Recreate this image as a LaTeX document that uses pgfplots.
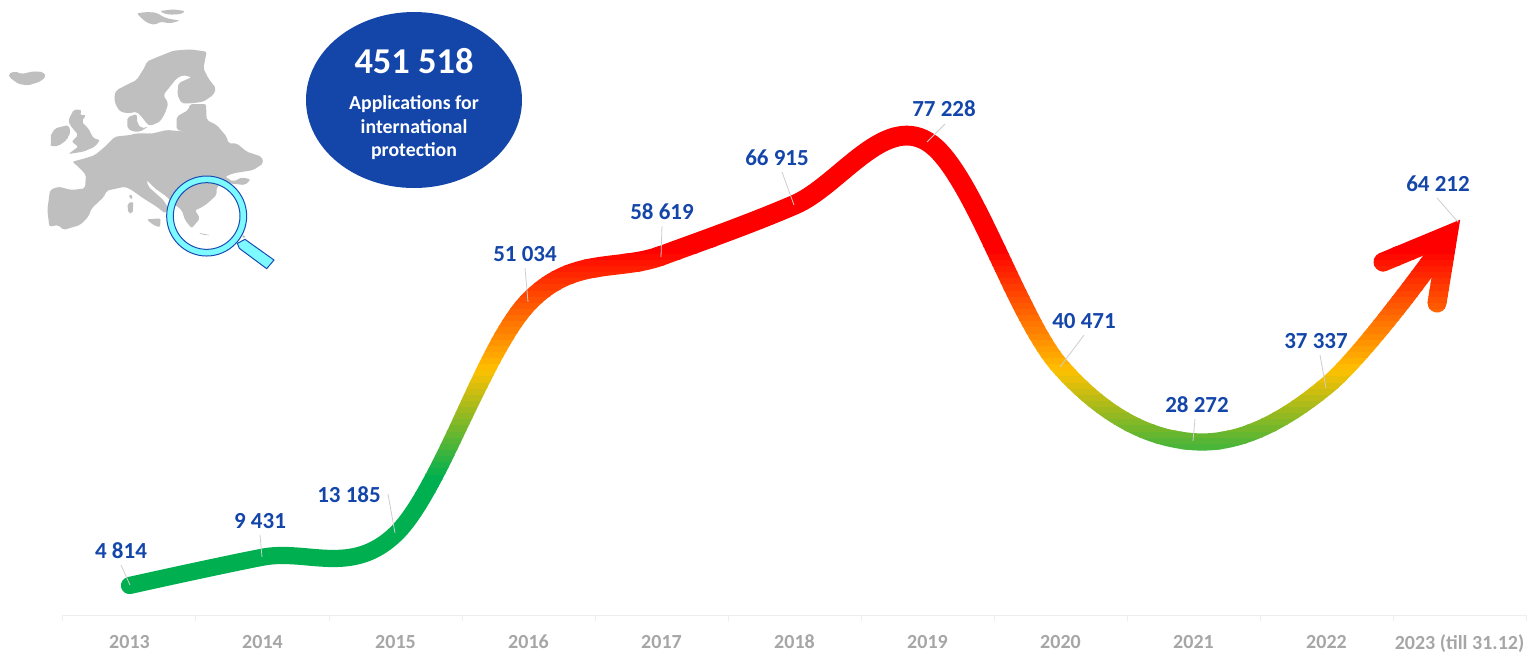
\documentclass[border=0pt]{standalone}
\usepackage{fontspec}
\setmainfont{Carlito}
\usepackage{pgfplots}
\usepackage{pgfplotstable}
\pgfplotsset{compat=1.18}
\definecolor{eublue}{RGB}{20,70,170}
\definecolor{axgrey}{RGB}{166,166,166}
\definecolor{axline}{RGB}{238,238,238}
\definecolor{leader}{RGB}{205,205,205}
\definecolor{mapgrey}{RGB}{191,191,191}
\definecolor{lens}{RGB}{125,250,255}
\definecolor{lensedge}{RGB}{25,75,180}
\pgfplotstableread{
x y
0 4814
1 9431
2 13185
3 51034
4 58619
5 66915
6 77228
7 40471
8 28272
9 37337
10 64212
}\appdata
\pgfplotstableread{
x y
9.425 57585
9.914 61990
9.831 50897
}\headdata
\pgfplotsset{
  colormap={gradmap}{rgb255(0cm)=(0,176,80) rgb255(2cm)=(0,176,80) rgb255(19.5cm)=(255,192,0) rgb255(39cm)=(255,0,0) rgb255(40cm)=(255,0,0)},
  colormap name=gradmap,
}
% #1 lower y, #2 upper y, #3 colormap position, #4 line width
\newcommand{\band}[4]{%
  \addplot[color of colormap={#3}, line width=#4pt, smooth, tension=0.6, line cap=round, shorten >=17pt, no marks, forget plot,
    execute at begin plot visualization={\begin{scope}\clip (axis cs:-2,#1) rectangle (axis cs:12,#2);},
    execute at end plot visualization={\end{scope}}] table[x=x,y=y]{\appdata};
  \addplot[color of colormap={#3}, line width=9.5pt, sharp plot, line cap=round, line join=miter, no marks, forget plot,
    execute at begin plot visualization={\begin{scope}\clip (axis cs:-2,#1) rectangle (axis cs:12,#2);},
    execute at end plot visualization={\end{scope}}] table[x=x,y=y]{\headdata};
}
\begin{document}
\begin{tikzpicture}
\path[use as bounding box] (0pt,0pt) rectangle (768.5pt,-327.5pt);
\begin{scope}[x=0.5pt,y=-0.5pt]
% map
\begin{scope}[x=0.16667pt,y=-0.16667pt,every path/.append style={rounded corners=1pt}]
\fill[mapgrey] (25,222)--(45,214)--(65,222)--(100,214)--(130,216)--(138,230)--(120,245)--(85,256)--(55,252)--(40,240)--(28,232)--cycle;
\fill[mapgrey] (410,40)--(440,36)--(470,38)--(480,45)--(500,55)--(540,62)--(510,70)--(480,65)--(465,75)--(440,68)--(420,50)--cycle;
\fill[mapgrey] (480,33)--(520,28)--(555,33)--(545,42)--(510,44)--(490,40)--cycle;
\fill[mapgrey] (343,285)--(350,270)--(385,252)--(410,240)--(435,200)--(440,185)--(470,172)--(520,152)--(570,148)--(620,155)--(615,180)--(610,205)--(625,235)--(648,265)--(640,285)--(610,305)--(575,310)--(545,310)--(532,285)--(535,250)--(560,238)--(575,232)--(550,225)--(530,235)--(510,260)--(490,285)--(505,310)--(495,340)--(480,365)--(450,378)--(440,370)--(425,350)--(410,335)--(385,340)--(360,335)--(345,310)--cycle;
\fill[mapgrey] (382,352)--(410,342)--(412,370)--(425,385)--(445,380)--(420,395)--(400,395)--(382,385)--cycle;
\fill[mapgrey] (150,410)--(165,385)--(205,375)--(212,395)--(200,420)--(175,438)--(150,438)--(155,422)--cycle;
\fill[mapgrey] (205,360)--(222,328)--(245,330)--(240,345)--(258,345)--(245,365)--(265,385)--(280,415)--(300,420)--(285,440)--(250,455)--(205,462)--(235,440)--(215,425)--(235,405)--(218,385)--(210,375)--cycle;
\fill[mapgrey] (217,485)--(255,475)--(285,465)--(315,440)--(345,410)--(390,405)--(410,400)--(445,400)--(450,402)--(500,390)--(560,395)--(530,390)--(530,350)--(565,330)--(570,312)--(618,312)--(620,360)--(650,375)--(680,410)--(685,430)--(710,430)--(740,455)--(785,470)--(790,490)--(760,510)--(700,520)--(675,530)--(700,545)--(725,532)--(752,538)--(735,555)--(705,552)--(670,548)--(650,560)--(650,585)--(620,612)--(600,625)--(585,630)--(600,655)--(575,685)--(555,660)--(545,630)--(520,610)--(500,590)--(465,565)--(440,540)--(445,560)--(490,600)--(505,625)--(495,640)--(470,620)--(430,595)--(395,570)--(375,560)--(320,572)--(312,590)--(275,625)--(265,650)--(240,675)--(190,690)--(175,675)--(148,680)--(142,630)--(150,570)--(175,560)--(215,570)--(255,565)--(258,525)--(240,505)--cycle;
\fill[mapgrey] (385,585)--(398,585)--(395,600)--cycle;
\fill[mapgrey] (382,610)--(400,605)--(398,640)--(385,640)--cycle;
\fill[mapgrey] (440,658)--(482,655)--(480,682)--(460,675)--cycle;
\fill[mapgrey] (595,698)--(632,706)--(610,705)--cycle;
\fill[mapgrey] (725,705)--(738,708)--(730,716)--cycle;
\end{scope}
\begin{scope}[x=0.16667pt,y=-0.16667pt]
\fill[lens,draw=lensedge,line width=0.5pt] (712,730)--(735,718)--(822,780)--(800,806)--(718,745)--cycle;
\fill[lens,draw=lensedge,line width=0.5pt,even odd rule] (620,648) circle (120) (620,648) circle (100);
\end{scope}
% ellipse
\fill[eublue] (414,100) ellipse [x radius=108, y radius=88];
\node[white,font=\fontsize{18.2}{20}\selectfont\bfseries] at (414,61) {451 518};
\node[white,font=\fontsize{9.9}{11}\selectfont\bfseries] at (414,104) {Applications for};
\node[white,font=\fontsize{9.9}{11}\selectfont\bfseries] at (414,127) {international};
\node[white,font=\fontsize{9.9}{11}\selectfont\bfseries] at (414,151) {protection};
\end{scope}
\begin{axis}[
  at={(31.5pt,-307.5pt)}, anchor=south west, scale only axis,
  width=731.5pt, height=306.5pt,
  xmin=-0.5, xmax=10.5, ymin=0, ymax=100000,
  clip=false,
  axis x line*=bottom, axis y line=none,
  x axis line style={axline,-,line width=0.5pt},
  xtick={0,...,10},
  xticklabels={2013,2014,2015,2016,2017,2018,2019,2020,2021,2022,2023 (till 31.12)},
  x tick label style={text=axgrey,font=\fontsize{10}{11}\selectfont\bfseries,yshift=-6.5pt},
  major tick length=0pt,
  extra x ticks={-0.5,0.5,...,10.5},
  extra x tick labels={},
  extra x tick style={major tick length=3pt,tick align=outside,tick style={axline,line width=0.5pt}},
]
\band{-20000}{20040}{0}{8.6}
\pgfplotsinvokeforeach{20,...,59}{%
  \pgfmathtruncatemacro\c{(#1-20)*25}\pgfmathtruncatemacro\h{#1+1}%
  \pgfmathsetmacro\w{8.6+1.3*min(max(#1-30,0),20)/20}%
  \edef\tmp{\noexpand\band{#1000}{\h040}{\c}{\w}}\tmp
}
\band{60000}{120000}{1000}{9.9}
\end{axis}
\begin{scope}[x=0.5pt,y=-0.5pt]
% leaders
\foreach \a/\b/\c/\d in {121/565/130/585,260/535/262/557,388/494/395/533,525/268/528/302,662/226/661/257,782/172/794/205,945/124/927/142,1084/335/1060/367,1195/419/1193/441,1320/355/1326/388,1437/198/1458/222}
  \draw[leader,line width=0.4pt] (\a,\b)--(\c,\d);
% labels
\foreach \a/\b/\t in {121/551/4 814,260/521/9 431,349/495/13 185,525/254/51 034,662/212/58 619,777/158/66 915,944/109/77 228,1084/321/40 471,1197/405/28 272,1316/341/37 337,1438/184/64 212}
  \node[eublue,font=\fontsize{11.5}{13}\selectfont\bfseries] at (\a,\b) {\t};
\end{scope}
\end{tikzpicture}
\end{document}
